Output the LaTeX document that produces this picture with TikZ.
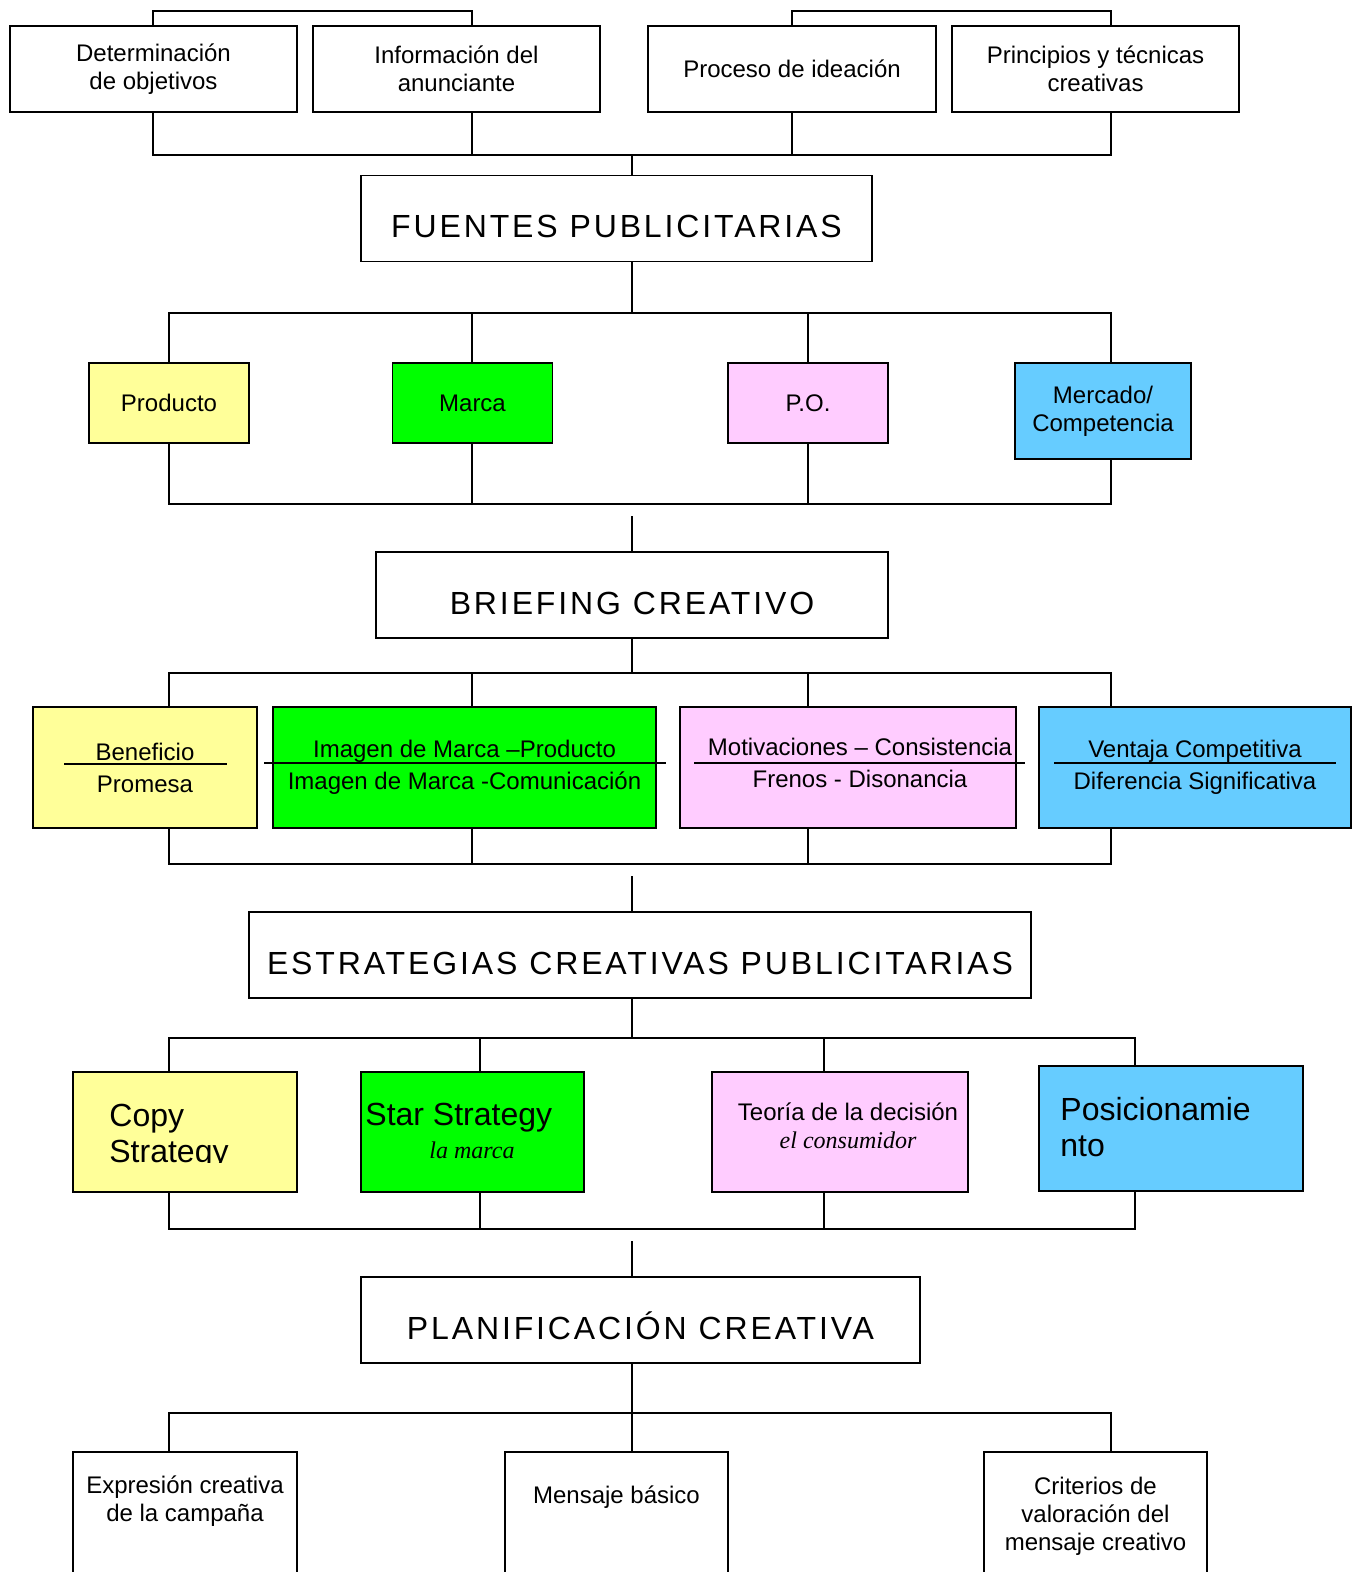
\documentclass[tikz,border=0pt]{standalone}
\usepackage{fontspec}
\setmainfont{Liberation Sans}
\newfontfamily\headfont[LetterSpace=9]{Liberation Sans}
\newfontfamily\timesfont{Liberation Serif}
\usepackage{tikz}
\usetikzlibrary{positioning}
\definecolor{yel}{HTML}{FFFF99}
\definecolor{grn}{HTML}{00FF00}
\definecolor{pnk}{HTML}{FFCCFF}
\definecolor{blu}{HTML}{66CCFF}

\begin{document}
\begin{tikzpicture}[x=0.5pt,y=-0.5pt,
  box/.style={draw,line width=0.9pt,inner sep=0pt,align=center,font=\fontsize{12}{14}\selectfont},
  head/.style={box,minimum height=43pt,text height=19pt,text depth=0pt,font=\headfont\fontsize{16}{18}\selectfont},
  txt/.style={inner sep=0pt,align=center,font=\fontsize{12}{14}\selectfont},
  big/.style={inner sep=0pt,align=left,font=\fontsize{16}{18}\selectfont},
  link/.style={line width=0.9pt,line cap=rect}]
\useasboundingbox (0,0) rectangle (1356,1572);

% columns and bus levels
\coordinate (a1) at (153,0); \coordinate (a2) at (472,0);
\coordinate (a3) at (792,0); \coordinate (a4) at (1111,0);
\coordinate (b1) at (169,0); \coordinate (b2) at (472,0);
\coordinate (b3) at (808,0); \coordinate (b4) at (1111,0);
\coordinate (c1) at (169,0); \coordinate (c2) at (480,0);
\coordinate (c3) at (824,0); \coordinate (c4) at (1135,0);
\coordinate (kc) at (632,0);
\coordinate (up1) at (0,11);   \coordinate (lo1) at (0,155);
\coordinate (up2) at (0,313);  \coordinate (lo2) at (0,504);
\coordinate (up3) at (0,673);  \coordinate (lo3) at (0,864);
\coordinate (up4) at (0,1038); \coordinate (lo4) at (0,1229);
\coordinate (up5) at (0,1413);

% sources
\node[box,minimum width=143.5pt,minimum height=43pt] (det) at (153.5,69) {Determinación\\de objetivos};
\node[box,minimum width=143.5pt,minimum height=43pt] (info) at (456.5,69) {Información del\\anunciante};
\node[box,minimum width=144pt,minimum height=43pt] (proc) at (792,69) {Proceso de ideación};
\node[box,minimum width=143.5pt,minimum height=43pt] (princ) at (1095.5,69) {Principios y técnicas\\creativas};
\node[head,minimum width=255.5pt] (fuentes) at (616.5,218.5) {FUENTES PUBLICITARIAS};

% first level
\node[box,fill=yel,minimum width=80pt,minimum height=40pt] (prod) at (169,403) {Producto};
\node[box,fill=grn,minimum width=80pt,minimum height=40pt] (marca) at (472.5,403) {Marca};
\node[box,fill=pnk,minimum width=80pt,minimum height=40pt] (po) at (808,403) {P.O.};
\node[box,fill=blu,minimum width=88pt,minimum height=48pt] (merc) at (1103,411) {Mercado/\\Competencia};
\node[head,minimum width=256pt] (brief) at (632,595) {BRIEFING CREATIVO};

% briefing
\node[box,fill=yel,minimum width=112pt,minimum height=60.5pt] (ben) at (145,767.5) {Beneficio\\[2pt]Promesa};
\node[box,fill=grn,minimum width=191.5pt,minimum height=60.5pt] (img) at (464.5,767.5) {Imagen de Marca –Producto\\[2pt]Imagen de Marca -Comunicación};
\node[box,fill=pnk,minimum width=168pt,minimum height=60.5pt] (mot) at (848,767.5) {};
\node[txt] (mottx) at (860,763) {Motivaciones – Consistencia\\[2pt]Frenos - Disonancia};
\node[box,fill=blu,minimum width=156pt,minimum height=60.5pt] (ven) at (1195,767.5) {Ventaja Competitiva\\[2pt]Diferencia Significativa};
\draw[link] (65,764) -- (226,764);
\draw[link] (265,763) -- (665,763);
\draw[link] (695,763) -- (1024,763);
\draw[link] (1055,763) -- (1335,763);
\node[head,minimum width=391pt] (estr) at (640,955) {ESTRATEGIAS CREATIVAS PUBLICITARIAS};

% strategies
\node[box,fill=yel,minimum width=112pt,minimum height=60pt] (copy) at (185,1132) {};
\begin{scope}
  \clip (73,1072) rectangle (297,1162);
  \node[big,anchor=north west] (copytx) at (109,1104) {Copy\\Strategy};
\end{scope}
\node[box,fill=grn,minimum width=111.5pt,minimum height=60pt] (star) at (472.5,1132) {};
\node[big,anchor=north west] (startx) at (365,1103) {Star Strategy};
\node[txt,font=\timesfont\itshape\fontsize{12}{14}\selectfont] (marcatx) at (472,1150) {la marca};
\node[box,fill=pnk,minimum width=128pt,minimum height=60pt] (teo) at (840,1132) {};
\node[txt] (teotx) at (848,1126) {Teoría de la decisión\\{\timesfont\itshape el consumidor}};
\node[box,fill=blu,minimum width=132pt,minimum height=62.5pt] (pos) at (1171,1128.5) {};
\node[big,anchor=north west] (postx) at (1060,1097) {Posicionamie\\nto};
\node[head,minimum width=279.5pt] (plan) at (640.5,1320) {PLANIFICACIÓN CREATIVA};

% planning
\node[box,minimum width=112pt,minimum height=74pt] (expr) at (185,1526) {};
\node[txt,below=12pt of expr.north] (exprtx) {Expresión creativa\\de la campaña};
\node[box,minimum width=111.5pt,minimum height=74pt] (mens) at (616.5,1526) {};
\node[txt,below=17pt of mens.north] (menstx) {Mensaje básico};
\node[box,minimum width=111.5pt,minimum height=74pt] (crit) at (1095.5,1526) {};
\node[txt,below=13pt of crit.north] (crittx) {Criterios de\\valoración del\\mensaje creativo};

% connectors
\foreach \n/\k in {det/a1,info/a2,proc/a3,princ/a4} {
  \draw[link] (\n.north -| \k) -- (\k |- up1);
  \draw[link] (\n.south -| \k) -- (\k |- lo1);
}
\draw[link] (a1 |- up1) -- (a2 |- up1);
\draw[link] (a3 |- up1) -- (a4 |- up1);
\draw[link] (a1 |- lo1) -- (a4 |- lo1);
\draw[link] (kc |- lo1) -- (fuentes.north -| kc);

\foreach \n/\k in {prod/b1,marca/b2,po/b3,merc/b4} {
  \draw[link] (\n.north -| \k) -- (\k |- up2);
  \draw[link] (\n.south -| \k) -- (\k |- lo2);
}
\draw[link] (b1 |- up2) -- (b4 |- up2);
\draw[link] (b1 |- lo2) -- (b4 |- lo2);
\draw[link] (fuentes.south -| kc) -- (kc |- up2);
\draw[link] (brief.north -| kc) -- ++(0,-34);

\foreach \n/\k in {ben/b1,img/b2,mot/b3,ven/b4} {
  \draw[link] (\n.north -| \k) -- (\k |- up3);
  \draw[link] (\n.south -| \k) -- (\k |- lo3);
}
\draw[link] (b1 |- up3) -- (b4 |- up3);
\draw[link] (b1 |- lo3) -- (b4 |- lo3);
\draw[link] (brief.south -| kc) -- (kc |- up3);
\draw[link] (estr.north -| kc) -- ++(0,-34);

\foreach \n/\k in {copy/c1,star/c2,teo/c3,pos/c4} {
  \draw[link] (\n.north -| \k) -- (\k |- up4);
  \draw[link] (\n.south -| \k) -- (\k |- lo4);
}
\draw[link] (c1 |- up4) -- (c4 |- up4);
\draw[link] (c1 |- lo4) -- (c4 |- lo4);
\draw[link] (estr.south -| kc) -- (kc |- up4);
\draw[link] (plan.north -| kc) -- ++(0,-34);

\draw[link] (plan.south -| kc) -- (mens.north -| kc);
\draw[link] (expr.north -| b1) -- (b1 |- up5) -- (b4 |- up5) -- (crit.north -| b4);
\end{tikzpicture}
\end{document}
